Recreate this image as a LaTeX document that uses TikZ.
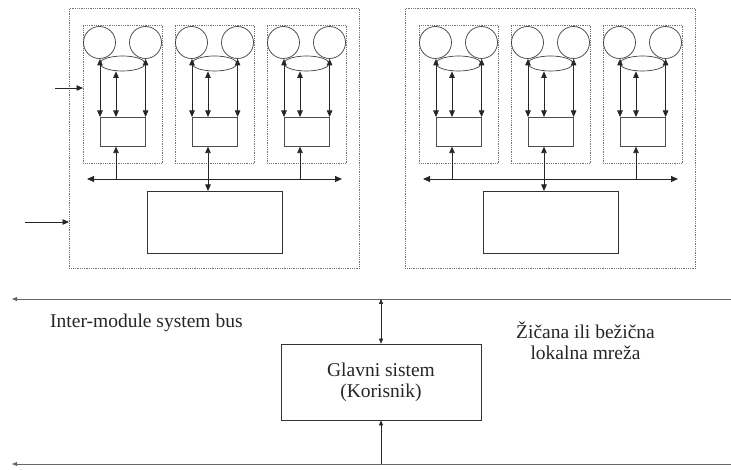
\documentclass[tikz,border=0pt]{standalone}
\usepackage{fontspec}
\setmainfont{Liberation Serif}
\usetikzlibrary{arrows.meta,shapes.geometric,calc}
\begin{document}
\begin{tikzpicture}[x=1pt,y=-1pt,
  dotbox/.style={draw=black!55,densely dotted,line width=0.8pt,rectangle,inner sep=0pt},
  unit/.style={draw=black!75,line width=0.7pt,circle,inner sep=0pt,minimum size=32pt},
  ring/.style={draw=black!75,line width=0.7pt,ellipse,inner sep=0pt,minimum width=45pt,minimum height=15pt},
  box/.style={draw=black!80,line width=0.7pt,rectangle,inner sep=0pt},
  dbl/.style={{Triangle[length=6.5pt,width=5.5pt]}-{Triangle[length=6.5pt,width=5.5pt]},draw=black!85,line width=0.8pt},
  uni/.style={-{Triangle[length=6.5pt,width=5.5pt]},draw=black!85,line width=0.8pt},
  dblsmall/.style={{Triangle[length=5pt,width=4pt]}-{Triangle[length=5pt,width=4pt]},draw=black!85,line width=0.6pt},
  unismall/.style={-{Triangle[length=5pt,width=4pt]},draw=black!85,line width=0.6pt},
  netline/.style={-{Triangle[length=5pt,width=4pt]},draw=black!60,line width=0.9pt},
  label/.style={inner sep=0pt,text=black!85,font=\fontsize{19.5}{21}\selectfont}
]
\useasboundingbox (0,0) rectangle (731,470);

% two processing modules
\foreach \m/\X in {L/69,R/405}{
  \node[dotbox,anchor=north west,minimum width=290pt,minimum height=260pt] (mod-\m) at (\X,8) {};
  % internal bus and its shared block
  \coordinate (busL-\m) at (\X+18,179);
  \coordinate (busR-\m) at (\X+273,179);
  \draw[dbl,line width=0.9pt,{Triangle[length=7pt,width=6pt]}-{Triangle[length=7pt,width=6pt]}] (busL-\m) -- (busR-\m);
  \node[box,anchor=north west,minimum width=135pt,minimum height=62pt] (big-\m) at (\X+78,191) {};
  % three sub-units
  \foreach \k/\dx in {1/14,2/106,3/198}{
    \pgfmathsetmacro\S{\X+\dx}
    \node[dotbox,anchor=north west,minimum width=79pt,minimum height=138pt] (sub-\m\k) at (\S,25) {};
    \node[unit] (ca-\m\k) at (\S+16.5,42.5) {};
    \node[unit] (cb-\m\k) at (\S+62.5,42.5) {};
    \node[ring] (ring-\m\k) at (\S+39.5,63.5) {};
    \node[box,draw=black!70,line width=0.6pt,anchor=north west,minimum width=45pt,minimum height=29pt] (cpu-\m\k) at (\S+17,117) {};
    \coordinate (mid-\m\k) at (\S+33,117);
    \draw[dbl] (cpu-\m\k.north west |- ca-\m\k.south) -- (cpu-\m\k.north west);
    \draw[dbl] (cpu-\m\k.north east |- cb-\m\k.south) -- (cpu-\m\k.north east);
    \draw[dbl] (mid-\m\k |- ring-\m\k.south) -- (mid-\m\k);
    \ifnum\k=2
      \draw[dbl] (mid-\m\k |- cpu-\m\k.south) -- (mid-\m\k |- big-\m.north);
    \else
      \draw[uni] (mid-\m\k |- busL-\m) -- (mid-\m\k |- cpu-\m\k.south);
    \fi
  }
}

% external inputs of the left module
\coordinate (in1) at (55,88);
\draw[uni] (in1) -- (in1 -| sub-L1.west);
\coordinate (in2) at (25,222);
\draw[uni] (in2) -- (in2 -| mod-L.west);

% system bus and network
\coordinate (netTopL) at (12,299);
\coordinate (netTopR) at (731,299);
\coordinate (netBotL) at (12,464);
\coordinate (netBotR) at (731,464);
\draw[netline] (netTopR) -- (netTopL);
\draw[netline] (netBotR) -- (netBotL);

\node[box,label,minimum width=200pt,minimum height=76pt,align=center] (host) at (381,382) {Glavni sistem\\(Korisnik)};
\draw[dblsmall] (host.north |- netTopL) -- (host.north);
\draw[unismall] (host.south |- netBotL) -- (host.south);

\node[label,anchor=west] (busname) at (50,323) {Inter-module system bus};
\node[label,align=center] (lan) at (585.5,340.5) {Žičana ili bežična\\lokalna mreža};
\end{tikzpicture}
\end{document}
